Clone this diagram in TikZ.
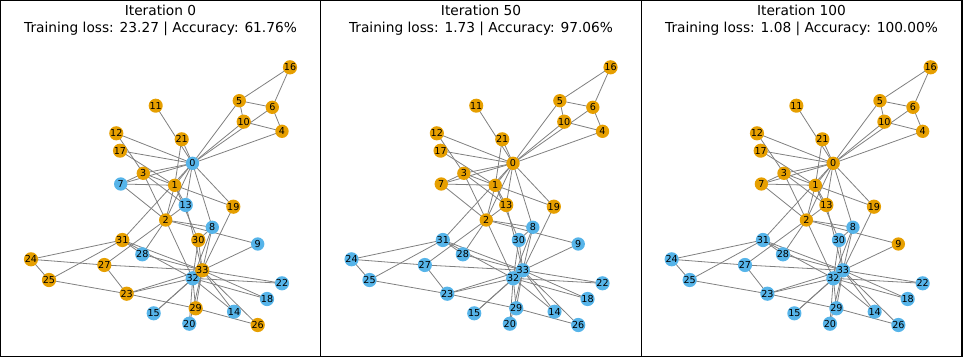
\documentclass[tikz,border=0pt]{standalone}
\usepackage{fontspec}
\setmainfont{DejaVu Sans}
\usetikzlibrary{calc}
\definecolor{mblue}{RGB}{86,180,233}
\definecolor{morange}{RGB}{230,159,0}
\definecolor{edgegray}{RGB}{128,128,128}
\pgfdeclarelayer{bg}
\pgfsetlayers{bg,main}
\tikzset{
  vx/.style={circle,draw=none,minimum size=10pt,inner sep=0pt,font=\fontsize{7.2}{8}\selectfont,text=black},
  edgeline/.style={draw=edgegray,line width=0.6pt},
  titletext/.style={font=\fontsize{10.3}{12}\selectfont,anchor=base,inner sep=0pt},
  frameline/.style={draw=black,line width=0.9pt}
}
\begin{document}
\begin{tikzpicture}[x=0.75pt,y=-0.75pt]
\useasboundingbox (0,0) rectangle (963,357);
% positions (panel 1)
\foreach \i/\x/\y in {0/192.5/163.3,1/174.7/185.3,2/165.7/220,3/143.3/173.3,4/282/131.3,5/239.3/100.7,6/272.3/107.3,7/120.7/184,8/212.3/227.3,9/257.7/244,10/243.7/121.7,11/155.7/105.7,12/116.3/133.3,13/185.7/205,14/234/311.7,15/153.7/313.3,16/290/67.3,17/120/150.7,18/267/299,19/233.3/206.7,20/189.3/323.7,21/181.7/139.3,22/282/283.3,23/126.7/293.7,24/31/259.3,25/49/280,26/257.7/325,27/104.3/265,28/142.3/254.3,29/195.7/308.3,30/198.3/240,31/122.3/240,32/192.7/278.3,33/202.3/270.3}
  \coordinate (p\i) at (\x,\y);
% panel A nodes
\foreach \i/\c in {0/mblue,1/morange,2/morange,3/morange,4/morange,5/morange,6/morange,7/mblue,8/mblue,9/mblue,10/morange,11/morange,12/morange,13/mblue,14/mblue,15/mblue,16/morange,17/morange,18/mblue,19/morange,20/mblue,21/morange,22/mblue,23/morange,24/morange,25/morange,26/morange,27/morange,28/mblue,29/morange,30/morange,31/morange,32/mblue,33/morange}
  \node[vx,fill=\c] (A\i) at (p\i) {\i};
% panel B nodes
\foreach \i/\c in {0/morange,1/morange,2/morange,3/morange,4/morange,5/morange,6/morange,7/morange,8/mblue,9/mblue,10/morange,11/morange,12/morange,13/morange,14/mblue,15/mblue,16/morange,17/morange,18/mblue,19/morange,20/mblue,21/morange,22/mblue,23/mblue,24/mblue,25/mblue,26/mblue,27/mblue,28/mblue,29/mblue,30/mblue,31/mblue,32/mblue,33/mblue}
  \node[vx,fill=\c] (B\i) at ([xshift=240.4pt]p\i) {\i};
% panel C nodes
\foreach \i/\c in {0/morange,1/morange,2/morange,3/morange,4/morange,5/morange,6/morange,7/morange,8/mblue,9/morange,10/morange,11/morange,12/morange,13/morange,14/mblue,15/mblue,16/morange,17/morange,18/mblue,19/morange,20/mblue,21/morange,22/mblue,23/mblue,24/mblue,25/mblue,26/mblue,27/mblue,28/mblue,29/mblue,30/mblue,31/mblue,32/mblue,33/mblue}
  \node[vx,fill=\c] (C\i) at ([xshift=480.5pt]p\i) {\i};
% edges
\begin{pgfonlayer}{bg}
\foreach \P in {A,B,C}{
  \foreach \u/\v in {0/1,0/2,0/3,0/4,0/5,0/6,0/7,0/8,0/10,0/11,0/12,0/13,0/17,0/19,0/21,0/31,1/2,1/3,1/7,1/13,1/17,1/19,1/21,1/30,2/3,2/7,2/8,2/9,2/13,2/27,2/28,2/32,3/7,3/12,3/13,4/6,4/10,5/6,5/10,5/16,6/16,8/30,8/32,8/33,9/33,13/33,14/32,14/33,15/32,15/33,18/32,18/33,19/33,20/32,20/33,22/32,22/33,23/25,23/27,23/29,23/32,23/33,24/25,24/27,24/31,25/31,26/29,26/33,27/33,28/31,28/33,29/32,29/33,30/32,30/33,31/32,31/33,32/33}
    \draw[edgeline] (\P\u.center) -- (\P\v.center);
}
\end{pgfonlayer}
% titles
\node[titletext] (tA1) at (160.5,16) {Iteration 0};
\node[titletext] (tA2) at (160.5,32.5) {Training loss: 23.27 | Accuracy: 61.76\%};
\node[titletext] (tB1) at (481,16) {Iteration 50};
\node[titletext] (tB2) at (481,32.5) {Training loss: 1.73 | Accuracy: 97.06\%};
\node[titletext] (tC1) at (801.5,16) {Iteration 100};
\node[titletext] (tC2) at (801.5,32.5) {Training loss: 1.08 | Accuracy: 100.00\%};
% frames
\draw[frameline] (0.6,0.6) rectangle (962,356.3);
\draw[frameline] (320.7,0.6) -- (320.7,356.3);
\draw[frameline] (641.5,0.6) -- (641.5,356.3);
\end{tikzpicture}
\end{document}
